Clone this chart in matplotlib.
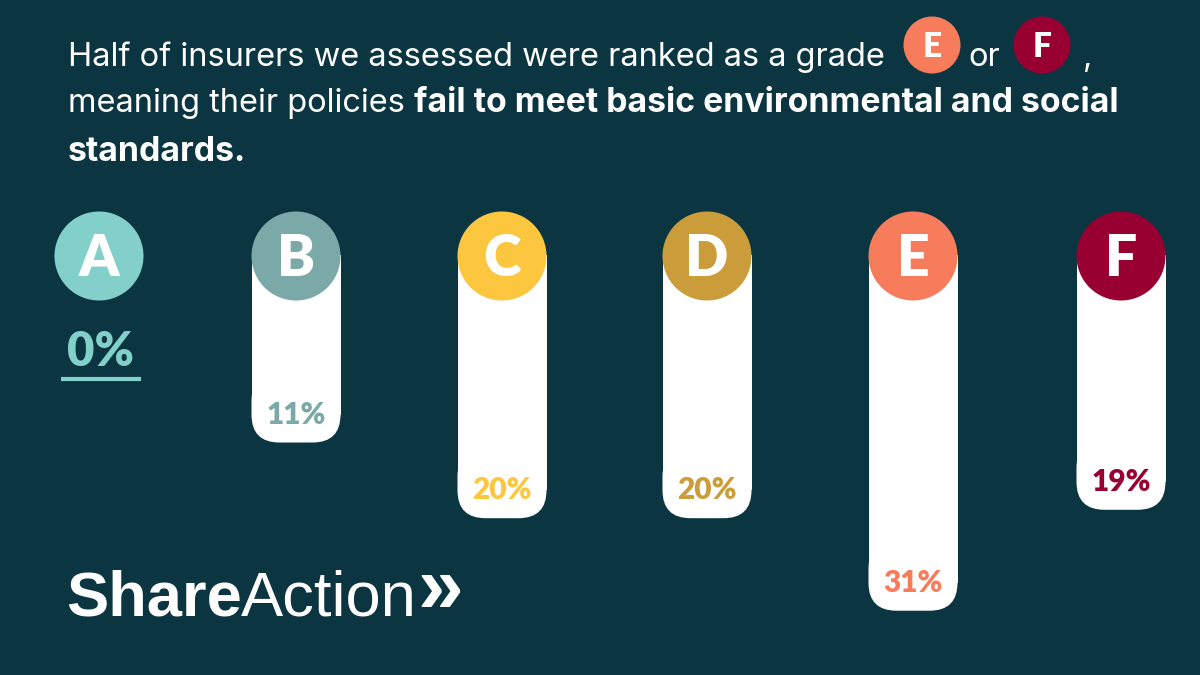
import matplotlib
matplotlib.use("Agg")
import matplotlib.pyplot as plt
from matplotlib.patches import Circle, FancyBboxPatch, Rectangle

# ---- data ----
grades = ["A", "B", "C", "D", "E", "F"]
shares = [0, 11, 20, 20, 31, 19]
share_labels = ["0%", "11%", "20%", "20%", "31%", "19%"]
grade_colors = ["#83d0ca", "#7aa9a7", "#fdc63f", "#cb9c3a", "#f77c5c", "#980031"]

title_line1 = "Half of insurers we assessed were ranked as a grade"
title_line2_normal = "meaning their policies "
title_line2_bold = "fail to meet basic environmental and social"
title_line3_bold = "standards."
logo_bold = "Share"
logo_regular = "Action"
logo_mark = "»"

# ---- style / layout ----
BG = "#0b3641"
W, H = 1200, 675
TITLE_FONT = "Inter"
LABEL_FONT = "Lato"

fig = plt.figure(figsize=(12, 6.75), dpi=100, facecolor=BG)
ax = fig.add_axes([0, 0, 1, 1])
ax.set_xlim(0, W)
ax.set_ylim(H, 0)
ax.axis("off")
ax.set_facecolor(BG)
renderer = fig.canvas.get_renderer()


def width_px(t):
    return t.get_window_extent(renderer=renderer).width


def run(x, y, s, size, weight="normal", family=TITLE_FONT, color="white"):
    t = ax.text(x, y, s, fontsize=size, fontweight=weight, family=family,
                color=color, ha="left", va="baseline")
    return t, x + width_px(t)


def fit_size(s, target_w, weight, family, start=20):
    t = ax.text(0, 0, s, fontsize=start, fontweight=weight, family=family)
    w = width_px(t)
    t.remove()
    return start * target_w / w


# title
size1 = fit_size(title_line1, 817, "normal", TITLE_FONT)
run(68, 66, title_line1, size1)
badge_r = 28.5
for g, cx in (("E", 932), ("F", 1042)):
    c = grade_colors[grades.index(g)]
    ax.add_patch(Circle((cx, 45), badge_r, fc=c, ec="none", zorder=3))
    ax.text(cx, 45 + 12, g, fontsize=24, fontweight="heavy", family=LABEL_FONT,
            color="white", ha="center", va="baseline", zorder=4)
run(968, 66, "or", size1)
run(1083, 66, ",", size1)

_, xe = run(68, 112, title_line2_normal, size1)
size_b = fit_size(title_line2_bold, 1118 - xe, "bold", TITLE_FONT)
run(xe, 112, title_line2_bold, size_b, weight="bold")
run(68, 161, title_line3_bold, size_b, weight="bold")

# bars
xs = [99, 296, 502, 707, 913, 1121]
cy = 256
R = 44.5
rs = 28


def bar_bottom(v):
    return 350 + 8.41 * v


for g, v, lab, c, x in zip(grades, shares, share_labels, grade_colors, xs):
    if v > 0:
        b = bar_bottom(v)
        ax.add_patch(Rectangle((x - R, cy - 1), 2 * R, (b - rs) - cy + 1, fc="white",
                               ec="none", zorder=1))
        ax.add_patch(FancyBboxPatch((x - R, b - 2.5 * rs), 2 * R, 2.5 * rs,
                                    boxstyle=f"round,pad=0,rounding_size={rs}",
                                    fc="white", ec="none", zorder=1))
        ax.text(x, b - 19, lab, fontsize=21.5, fontweight="heavy", family=LABEL_FONT,
                color=c, ha="center", va="baseline", zorder=3)
    else:
        ax.text(x + 1, 366, lab, fontsize=34, fontweight="heavy", family=LABEL_FONT,
                color=c, ha="center", va="baseline", zorder=3)
        ax.plot([61, 141], [379, 379], color=c, lw=3, solid_capstyle="butt")
    ax.add_patch(Circle((x, cy), R, fc=c, ec="none", zorder=2))
    ax.text(x, cy + 20, g, fontsize=41, fontweight="heavy", family=LABEL_FONT,
            color="white", ha="center", va="baseline", zorder=4)

# logo
lsize = 45.5
_, xe = run(66, 616, logo_bold, lsize, weight="bold", family="Liberation Sans")
_, xe = run(xe - 1, 616, logo_regular, lsize, family="Liberation Sans")
run(xe + 1, 613, logo_mark, lsize * 1.3, weight="bold", family="Liberation Sans")

fig.savefig("out.png", dpi=100, facecolor=BG)
